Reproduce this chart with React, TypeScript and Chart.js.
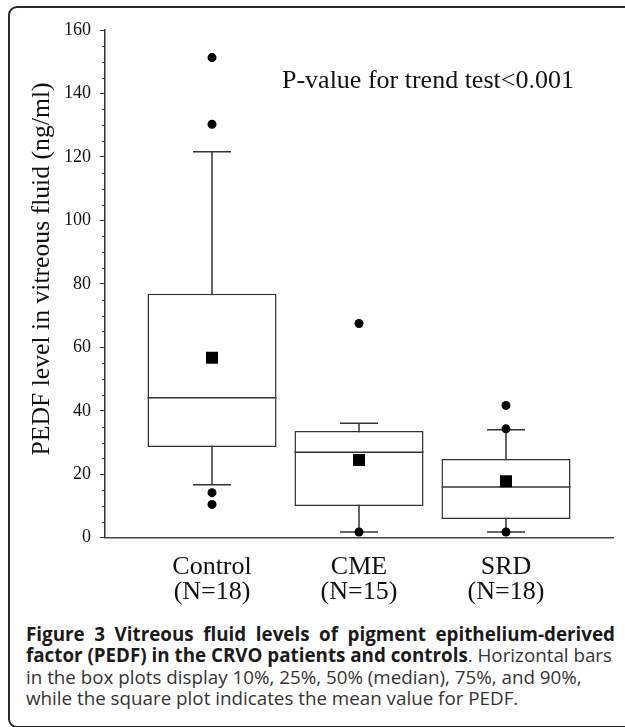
import React, { useEffect, useLayoutEffect, useRef, useState } from 'react';
import { Chart, registerables } from 'chart.js';

Chart.register(...registerables);

// ---- Data ----
const categories = ['Control', 'CME', 'SRD'];
const groupSizes = ['(N=18)', '(N=15)', '(N=18)'];
const positions = [1, 2, 3];
const whiskerLow = [16.7, 1.8, 1.8];
const q1 = [28.6, 10.0, 5.9];
const median = [44.1, 26.9, 16.0];
const q3 = [76.9, 33.6, 24.8];
const whiskerHigh = [121.6, 36.1, 34.0];
const means = [56.7, 24.5, 17.8];
const outliersControl = [151.3, 130.3, 14.2, 10.5];
const outliersCME = [67.5, 1.8];
const outliersSRD = [41.7, 34.3, 1.8];
const yMin = 0;
const yMax = 160;
const yStep = 20;
const yMinorStep = 5;
const yTitle = 'PEDF level in vitreous fluid (ng/ml)';
const annotationText = 'P-value for trend test<0.001';

const SERIF = '"Liberation Serif", "Times New Roman", serif';
const LINE = '#333';

const extrasPlugin = {
  id: 'extras',
  afterDraw(chart: any) {
    const { ctx, chartArea, scales } = chart;
    const ys = scales.y;
    const xs = scales.x;
    ctx.save();
    ctx.strokeStyle = LINE;
    ctx.lineWidth = 1;
    for (let v = yMin; v <= yMax; v += yMinorStep) {
      if (v % yStep === 0) continue;
      const py = Math.round(ys.getPixelForValue(v)) + 0.5;
      ctx.beginPath();
      ctx.moveTo(chartArea.left - 3, py);
      ctx.lineTo(chartArea.left, py);
      ctx.stroke();
    }
    ctx.fillStyle = '#111';
    ctx.font = `25.7px ${SERIF}`;
    ctx.textAlign = 'center';
    ctx.textBaseline = 'middle';
    ctx.translate(42, 269);
    ctx.rotate(-Math.PI / 2);
    ctx.fillText(yTitle, 0, 0);
    ctx.restore();
    ctx.save();
    ctx.fillStyle = '#111';
    ctx.font = `26px ${SERIF}`;
    ctx.textAlign = 'left';
    ctx.textBaseline = 'alphabetic';
    ctx.fillText(annotationText, xs.getPixelForValue(1.476), ys.getPixelForValue(141.6));
    ctx.restore();
  },
};

function ChartCanvas() {
  const ref = useRef<HTMLCanvasElement | null>(null);
  useEffect(() => {
    if (!ref.current) return;
    const outlierPoints = [
      ...outliersControl.map((y) => ({ x: positions[0], y })),
      ...outliersCME.map((y) => ({ x: positions[1], y })),
      ...outliersSRD.map((y) => ({ x: positions[2], y })),
    ];
    const whiskerSets = positions.map((p, i) => ({
      type: 'line',
      data: [
        { x: p, y: whiskerLow[i] },
        { x: p, y: whiskerHigh[i] },
      ],
      borderColor: LINE,
      borderWidth: 1.5,
      pointRadius: 0,
      fill: false,
      order: 6,
    }));
    const chart = new Chart(ref.current, {
      type: 'bar',
      data: {
        datasets: [
          ...whiskerSets,
          {
            type: 'bar',
            data: positions.map((p, i) => ({ x: p, y: [q1[i], q3[i]] })),
            backgroundColor: '#ffffff',
            borderColor: LINE,
            borderWidth: 1.5,
            borderSkipped: false,
            grouped: false,
            categoryPercentage: 1,
            barPercentage: 0.878,
            order: 5,
          },
          {
            type: 'scatter',
            data: positions.map((p, i) => ({ x: p, y: median[i] })),
            pointStyle: 'line',
            pointRadius: 64.5,
            borderColor: LINE,
            borderWidth: 1.5,
            order: 4,
          },
          {
            type: 'scatter',
            data: [
              ...positions.map((p, i) => ({ x: p, y: whiskerLow[i] })),
              ...positions.map((p, i) => ({ x: p, y: whiskerHigh[i] })),
            ],
            pointStyle: 'line',
            pointRadius: 19,
            borderColor: LINE,
            borderWidth: 1.5,
            order: 3,
          },
          {
            type: 'scatter',
            data: positions.map((p, i) => ({ x: p, y: means[i] })),
            pointStyle: 'rect',
            pointRadius: 8.5,
            backgroundColor: '#000',
            borderColor: '#000',
            borderWidth: 0,
            order: 2,
          },
          {
            type: 'scatter',
            data: outlierPoints,
            pointStyle: 'circle',
            pointRadius: 4.5,
            backgroundColor: '#000',
            borderColor: '#000',
            borderWidth: 0,
            order: 1,
          },
        ] as any,
      },
      options: {
        animation: false,
        responsive: false,
        maintainAspectRatio: false,
        events: [],
        layout: { autoPadding: false, padding: { top: 30, right: 12, left: 0, bottom: 0 } },
        plugins: { legend: { display: false }, tooltip: { enabled: false } },
        scales: {
          x: {
            type: 'linear',
            min: 0.272,
            max: 3.728,
            offset: false,
            grid: { display: true, drawOnChartArea: false, drawTicks: false, offset: false },
            border: { display: true, color: '#444', width: 1.5 },
            ticks: {
              font: { family: SERIF, size: 26, lineHeight: 0.96 },
              color: '#111',
              padding: 17,
              autoSkip: false,
              maxRotation: 0,
              callback: (v: any) => {
                const idx = positions.indexOf(Number(v));
                return idx >= 0 ? [categories[idx], groupSizes[idx]] : '';
              },
            },
            afterBuildTicks: (s: any) => {
              s.ticks = positions.map((v) => ({ value: v }));
            },
            afterFit: (s: any) => {
              s.height = 82.3;
            },
          },
          y: {
            type: 'linear',
            min: yMin,
            max: yMax,
            ticks: {
              stepSize: yStep,
              font: { family: SERIF, size: 18 },
              color: '#111',
              padding: 9,
            },
            grid: { drawOnChartArea: false, tickLength: 5, tickColor: LINE, tickWidth: 1 },
            border: { display: true, color: LINE, width: 1.5 },
            afterFit: (s: any) => {
              s.width = 105;
            },
          },
        },
      } as any,
      plugins: [extrasPlugin],
    });
    return () => chart.destroy();
  }, []);
  return (
    <canvas
      ref={ref}
      width={625}
      height={620}
      style={{ position: 'absolute', left: 0, top: 0, width: 625, height: 620 }}
    />
  );
}

function JustLine({ target, children }: { target: number; children: React.ReactNode }) {
  const ref = useRef<HTMLSpanElement | null>(null);
  const [style, setStyle] = useState<React.CSSProperties>({});
  useLayoutEffect(() => {
    const el = ref.current;
    if (!el) return;
    const w = el.getBoundingClientRect().width;
    const text = el.textContent || '';
    const spaces = (text.match(/ /g) || []).length;
    const diff = target - w;
    if (diff >= 0) {
      setStyle({ wordSpacing: spaces ? diff / spaces : 0 });
    } else {
      setStyle({ letterSpacing: diff / text.length });
    }
  }, [target]);
  return (
    <div style={{ whiteSpace: 'nowrap' }}>
      <span ref={ref} style={{ display: 'inline-block', whiteSpace: 'nowrap', ...style }}>
        {children}
      </span>
    </div>
  );
}

export default function App() {
  return (
    <div
      style={{
        position: 'fixed',
        left: 0,
        top: 0,
        width: 625,
        height: 727,
        overflow: 'hidden',
        background: '#fff',
      }}
    >
      <div
        style={{
          position: 'absolute',
          left: 8,
          top: 6,
          width: 700,
          height: 718,
          border: '2px solid #2a2a2a',
          borderRadius: 9,
        }}
      />
      <ChartCanvas />
      <div
        style={{
          position: 'absolute',
          left: 26,
          top: 624,
          width: 600,
          fontFamily: '"Open Sans", "Noto Sans", sans-serif',
          fontSize: 18.8,
          lineHeight: '21.4px',
          color: '#333',
        }}
      >
        <JustLine target={589}>
          <b style={{ color: '#1a1a1a' }}>Figure 3 Vitreous fluid levels of pigment epithelium-derived</b>
        </JustLine>
        <JustLine target={586}>
          <b style={{ color: '#1a1a1a' }}>factor (PEDF) in the CRVO patients and controls</b>. Horizontal bars
        </JustLine>
        <div style={{ whiteSpace: 'nowrap' }}>in the box plots display 10%, 25%, 50% (median), 75%, and 90%,</div>
        <div style={{ whiteSpace: 'nowrap' }}>while the square plot indicates the mean value for PEDF.</div>
      </div>
    </div>
  );
}
